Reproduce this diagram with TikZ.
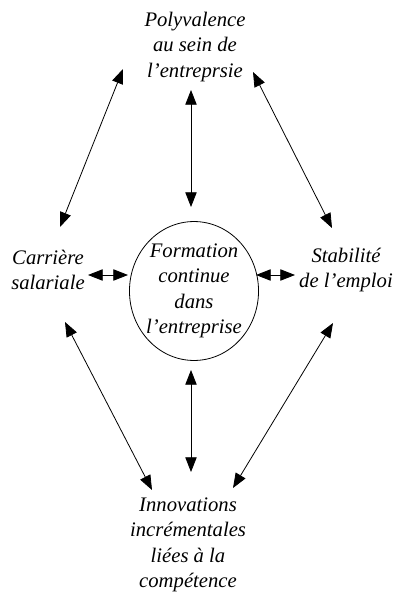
\documentclass[tikz,border=0pt]{standalone}
\usepackage{fontspec}
\setmainfont{Liberation Serif}
\usetikzlibrary{arrows.meta, calc, positioning}

\begin{document}
\begin{tikzpicture}[x=0.75pt, y=-0.75pt,
		my arrow/.style = {{Triangle[length=11pt,width=8.5pt]}-{Triangle[length=11pt,width=8.5pt]},
                   line width=0.6pt},
		my label/.style = {align=center, inner sep=0pt,
                   font=\itshape\fontsize{15.5}{19}\selectfont}
                   ]

%Frame of the picture
    \useasboundingbox (0,0) rectangle (410,596);

%Labels
    \node[my label] (poly) at (195,47)  {Polyvalence\\au sein de\\l'entreprsie};
    \node[my label] (carr) at (48,270)  {Carrière\\salariale};
    \node[my label] (stab) at (346,270) {Stabilité\\de l'emploi};
    \node[my label] (form) at (194,291) {Formation\\continue\\dans\\l'entreprise};
    \node[my label] (inno) at (188,545) {Innovations\\incrémentales\\liées à la\\compétence};

%Draw ellipse
    \draw[line width=0.6pt] (form) ellipse[x radius=48.4pt, y radius=52.1pt];

%Outer links
    \draw[my arrow] ($(poly)+(-72,22)$) -- ($(carr)+(12,-43)$);
    \draw[my arrow] ($(poly)+(58,25)$)  -- ($(stab)+(-14,-42)$);
    \draw[my arrow] ($(carr)+(17,52)$)  -- ($(inno)+(-36,-55)$);
    \draw[my arrow] ($(stab)+(-13,53)$) -- ($(inno)+(45,-57)$);

%Inner links
    \draw[my arrow] ($(poly)+(-4,43)$)  -- ($(form)+(-3,-84)$);
    \draw[my arrow] ($(carr)+(40,5)$)   -- ($(form)+(-66,-16)$);
    \draw[my arrow] ($(form)+(62,-16)$) -- ($(stab)+(-51,5)$);
    \draw[my arrow] ($(form)+(-3,79)$)  -- ($(inno)+(3,-73)$);

\end{tikzpicture}
\end{document}
